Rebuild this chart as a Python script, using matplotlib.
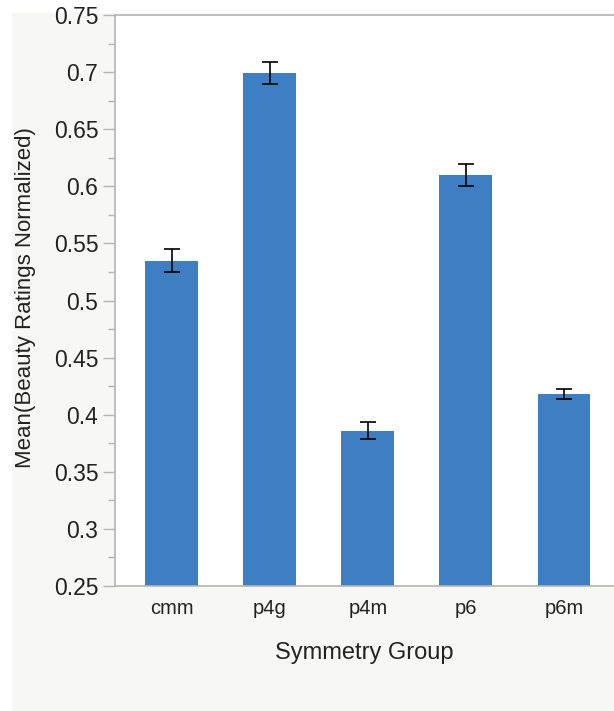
import numpy as np
import matplotlib
matplotlib.use("Agg")
import matplotlib.pyplot as plt
from matplotlib.patches import Rectangle
from matplotlib.ticker import MultipleLocator, FormatStrFormatter

plt.rcParams['font.family'] = ['Liberation Sans', 'DejaVu Sans']

# mean normalized beauty rating per wallpaper group, with standard error
groups = ["cmm", "p4g", "p4m", "p6", "p6m"]
means = [0.535, 0.699, 0.386, 0.610, 0.418]
errors = [0.0099, 0.0095, 0.0075, 0.0099, 0.0044]

bar_color = "#3e7fc3"
text_color = "#222222"
spine_color = "#b4b4b4"

fig = plt.figure(figsize=(6.14, 7.11), dpi=100, facecolor="white")
# light grey backdrop behind the plot frame
fig.add_artist(Rectangle((12 / 614, 0), 1 - 12 / 614, 1 - 13 / 711,
                         transform=fig.transFigure, facecolor="#f7f7f6",
                         edgecolor="none", zorder=-10))

ax = fig.add_axes([115 / 614, 1 - 586 / 711, 1 - 115 / 614, 571 / 711])
ax.set_facecolor("white")

x = np.arange(len(groups))
ax.bar(x, means, width=0.54, color=bar_color, zorder=2)
ax.errorbar(x, means, yerr=errors, fmt="none", ecolor="black",
            elinewidth=1.2, capsize=5.8, capthick=1.2, zorder=3)

ax.set_xlim(-0.58, 4.51)
ax.set_ylim(0.25, 0.75)
ax.set_xticks(x)
ax.set_xticklabels(groups)
ax.yaxis.set_major_locator(MultipleLocator(0.05))
ax.yaxis.set_minor_locator(MultipleLocator(0.025))
ax.yaxis.set_major_formatter(FormatStrFormatter("%g"))

ax.tick_params(axis="y", which="major", length=8.5, width=1, color=spine_color,
               labelsize=16.5, labelcolor=text_color, pad=3.5)
ax.tick_params(axis="y", which="minor", length=5, width=1, color=spine_color)
ax.tick_params(axis="x", length=0, labelsize=14.5, labelcolor=text_color, pad=9)

for side in ["left", "bottom", "top"]:
    ax.spines[side].set_color(spine_color)
    ax.spines[side].set_linewidth(1.2)
ax.spines["right"].set_visible(False)

ax.set_xlabel("Symmetry Group", fontsize=17, color=text_color, labelpad=18)
ax.set_ylabel("Mean(Beauty Ratings Normalized)", fontsize=16, color=text_color,
              va="center")
ax.yaxis.set_label_coords(-0.180, 0.505)

fig.savefig("out.png", dpi=100)
